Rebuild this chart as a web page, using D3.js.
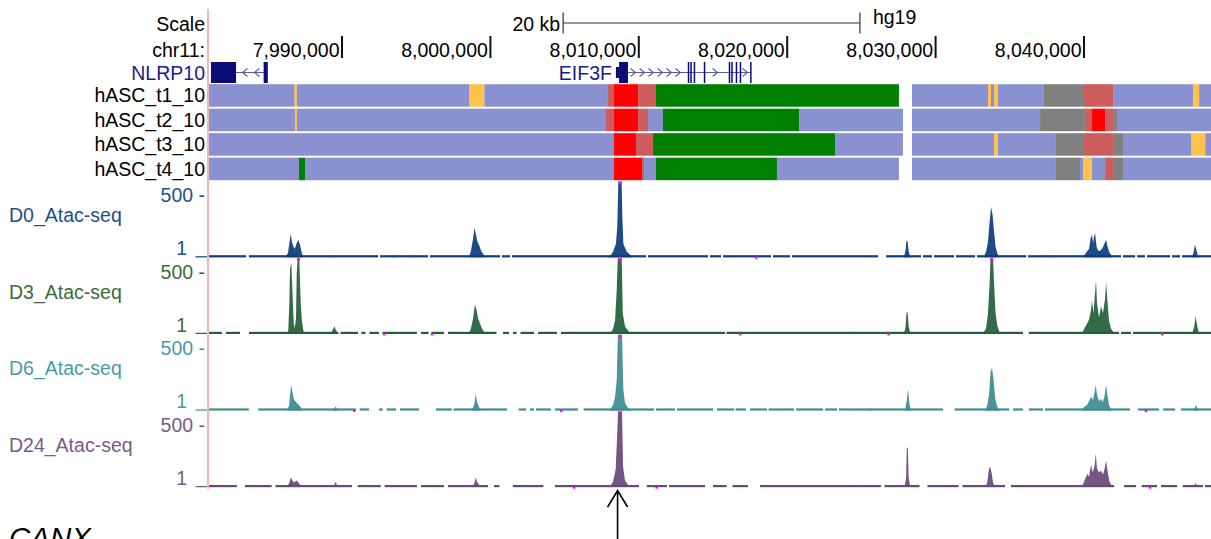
<!DOCTYPE html>
<html>
<head>
<meta charset="utf-8">
<script src="https://cdn.jsdelivr.net/npm/d3@7"></script>
<style>
  body { margin: 0; background: #fff; }
  svg { display: block; font-family: "Liberation Sans", Arial, sans-serif; }
</style>
</head>
<body>
<svg id="chart" width="1211" height="539"></svg>
<script>
// all positions are chr11 (hg19) coordinates in kb
const chrTicks = [7990, 8000, 8010, 8020, 8030, 8040];
const scaleBarKb = [8004.9, 8024.9];
const arrowKb = 8008.57;

// chromHMM states per row: [start, end, state]
const rowNames = ["hASC_t1_10", "hASC_t2_10", "hASC_t3_10", "hASC_t4_10"];
const t1Segments = [
  [7981.04, 7986.81, "Q"], [7986.81, 7986.97, "E"], [7986.97, 7998.60, "Q"], [7998.60, 7999.60, "E"],
  [7999.60, 8007.92, "Q"], [8007.92, 8008.33, "F"], [8008.33, 8009.95, "A"], [8009.95, 8011.16, "F"],
  [8011.16, 8027.53, "T"],
  [8028.41, 8033.53, "Q"], [8033.53, 8033.73, "E"], [8033.73, 8033.94, "Q"], [8033.94, 8034.20, "E"],
  [8034.20, 8037.30, "Q"], [8037.30, 8039.93, "R"], [8039.93, 8041.96, "F"], [8041.96, 8047.35, "Q"],
  [8047.35, 8047.76, "E"], [8047.76, 8048.60, "Q"]
];
const t2Segments = [
  [7981.04, 7986.83, "Q"], [7986.83, 7986.97, "E"], [7986.97, 8007.79, "Q"], [8007.79, 8008.33, "F"],
  [8008.33, 8009.95, "A"], [8009.95, 8010.62, "F"], [8010.62, 8011.63, "Q"], [8011.63, 8020.80, "T"],
  [8020.80, 8027.80, "Q"],
  [8028.41, 8037.04, "Q"], [8037.04, 8040.13, "R"], [8040.13, 8040.54, "F"], [8040.54, 8041.42, "A"],
  [8041.42, 8041.96, "F"], [8041.96, 8042.22, "R"], [8042.22, 8048.60, "Q"]
];
const t3Segments = [
  [7981.04, 8008.33, "Q"], [8008.33, 8009.81, "A"], [8009.81, 8010.96, "F"], [8010.96, 8023.22, "T"],
  [8023.22, 8027.80, "Q"],
  [8028.41, 8033.94, "Q"], [8033.94, 8034.20, "E"], [8034.20, 8038.11, "Q"], [8038.11, 8039.93, "R"],
  [8039.93, 8041.96, "F"], [8041.96, 8042.63, "R"], [8042.63, 8047.21, "Q"], [8047.21, 8048.17, "E"],
  [8048.17, 8048.60, "Q"]
];
const t4Segments = [
  [7981.04, 7987.10, "Q"], [7987.10, 7987.51, "T"], [7987.51, 8008.33, "Q"], [8008.33, 8010.22, "A"],
  [8010.22, 8010.35, "F"], [8010.35, 8011.16, "Q"], [8011.16, 8019.31, "T"], [8019.31, 8027.53, "Q"],
  [8028.41, 8038.11, "Q"], [8038.11, 8039.73, "R"], [8039.73, 8039.93, "Q"], [8039.93, 8040.54, "E"],
  [8040.54, 8041.42, "Q"], [8041.42, 8041.96, "F"], [8041.96, 8042.63, "R"], [8042.63, 8048.60, "Q"]
];

// genes
const nlrp10Exons = [[7981.17, 7982.86], [7984.72, 7985.00]];
const nlrp10Arrows = [7983.46, 7984.27];
const eif3fUtr = [[8008.46, 8008.67]];
const eif3fExons = [
  [8008.67, 8009.27], [8013.30, 8013.40], [8013.47, 8013.57], [8013.70, 8013.80], [8014.38, 8014.48],
  [8016.06, 8016.16], [8016.23, 8016.33], [8016.53, 8016.63], [8016.80, 8016.90], [8017.50, 8017.60]
];
const eif3fArrows = [8009.61, 8010.22, 8010.82, 8011.43, 8012.04, 8012.64, 8015.14, 8017.16];

// ATAC-seq signal: peaks as [kb, value], gaps in coverage, below-minimum marks
const signalNames = ["D0_Atac-seq", "D3_Atac-seq", "D6_Atac-seq", "D24_Atac-seq"];
const viewLimits = [1, 500];

const d0Peaks = [
  [[7986.23,1],[7986.36,28],[7986.46,94],[7986.54,153],[7986.63,100],[7986.73,67],[7986.83,54],[7986.93,87],[7987.06,114],[7987.17,81],[7987.27,34],[7987.37,1]],
  [[7989.33,1],[7989.39,14],[7989.46,1]],
  [[7993.43,1],[7993.50,11],[7993.57,1]],
  [[7994.58,1],[7994.65,11],[7994.72,1]],
  [[7998.56,1],[7998.69,41],[7998.83,120],[7998.93,193],[7999.03,147],[7999.13,100],[7999.23,81],[7999.37,41],[7999.50,21],[7999.64,1]],
  [[8007.93,1],[8008.13,14],[8008.26,34],[8008.46,87],[8008.55,200],[8008.62,520],[8008.84,520],[8008.89,266],[8008.96,87],[8009.19,34],[8009.41,14],[8009.54,1]],
  [[8027.87,1],[8027.97,41],[8028.04,107],[8028.11,107],[8028.18,41],[8028.28,1]],
  [[8033.26,1],[8033.40,34],[8033.53,100],[8033.64,233],[8033.74,332],[8033.84,279],[8033.94,167],[8034.04,67],[8034.17,21],[8034.28,1]],
  [[8037.51,1],[8037.58,14],[8037.65,1]],
  [[8039.94,1],[8040.14,28],[8040.34,54],[8040.44,120],[8040.54,147],[8040.61,94],[8040.68,134],[8040.74,160],[8040.85,67],[8040.95,41],[8041.08,41],[8041.22,54],[8041.35,81],[8041.49,114],[8041.59,67],[8041.69,34],[8041.89,1]],
  [[8047.28,1],[8047.38,28],[8047.48,81],[8047.59,41],[8047.69,1]]
];
const d3Peaks = [
  [[7986.29,1],[7986.38,21],[7986.45,200],[7986.50,432],[7986.58,472],[7986.68,233],[7986.75,67],[7986.81,34],[7986.90,100],[7986.95,399],[7987.01,520],[7987.12,520],[7987.22,200],[7987.30,81],[7987.39,21],[7987.47,1]],
  [[7989.26,1],[7989.39,28],[7989.49,47],[7989.60,21],[7989.73,1]],
  [[7994.60,1],[7994.68,14],[7994.75,1]],
  [[7998.56,1],[7998.69,34],[7998.83,100],[7998.96,193],[7999.06,160],[7999.17,100],[7999.30,67],[7999.43,34],[7999.64,1]],
  [[8008.06,1],[8008.26,28],[8008.40,87],[8008.51,286],[8008.58,520],[8008.85,520],[8008.92,134],[8009.07,47],[8009.27,21],[8009.48,1]],
  [[8024.24,1],[8024.30,14],[8024.37,1]],
  [[8024.50,1],[8024.57,14],[8024.64,1]],
  [[8025.31,1],[8025.38,14],[8025.45,1]],
  [[8027.87,1],[8027.97,41],[8028.04,134],[8028.11,147],[8028.18,54],[8028.28,1]],
  [[8031.98,1],[8032.05,14],[8032.12,1]],
  [[8033.20,1],[8033.40,34],[8033.53,134],[8033.64,332],[8033.70,520],[8033.87,520],[8033.94,332],[8034.04,134],[8034.17,47],[8034.34,1]],
  [[8037.58,1],[8037.65,14],[8037.72,1]],
  [[8039.87,1],[8040.00,28],[8040.21,67],[8040.34,94],[8040.48,160],[8040.54,220],[8040.64,134],[8040.74,266],[8040.81,352],[8040.88,200],[8041.01,107],[8041.15,180],[8041.28,134],[8041.42,233],[8041.49,339],[8041.59,200],[8041.69,81],[8041.82,34],[8042.03,1]],
  [[8045.53,1],[8045.60,14],[8045.67,1]],
  [[8047.28,1],[8047.42,41],[8047.52,114],[8047.62,54],[8047.75,1]]
];
const d6Peaks = [
  [[7986.29,1],[7986.43,28],[7986.50,100],[7986.58,167],[7986.66,120],[7986.77,67],[7986.90,54],[7987.03,41],[7987.17,28],[7987.30,1]],
  [[7989.40,1],[7989.57,24],[7989.73,1]],
  [[7998.76,1],[7998.90,34],[7999.01,107],[7999.10,54],[7999.23,21],[7999.37,1]],
  [[8008.06,1],[8008.26,34],[8008.40,87],[8008.51,200],[8008.59,520],[8008.87,520],[8008.96,134],[8009.07,47],[8009.27,14],[8009.48,1]],
  [[8024.57,1],[8024.64,11],[8024.71,1]],
  [[8025.58,1],[8025.65,11],[8025.72,1]],
  [[8027.94,1],[8028.04,54],[8028.14,140],[8028.21,67],[8028.31,1]],
  [[8033.33,1],[8033.47,28],[8033.60,100],[8033.70,253],[8033.80,279],[8033.91,200],[8034.01,81],[8034.14,28],[8034.28,1]],
  [[8039.87,1],[8040.00,21],[8040.21,34],[8040.37,67],[8040.48,87],[8040.61,67],[8040.71,120],[8040.79,167],[8040.88,100],[8041.01,61],[8041.15,74],[8041.28,54],[8041.39,100],[8041.49,167],[8041.59,94],[8041.69,34],[8041.82,1]],
  [[8047.42,1],[8047.55,34],[8047.69,1]]
];
const d24Peaks = [
  [[7986.29,1],[7986.43,21],[7986.56,61],[7986.66,41],[7986.77,28],[7986.93,41],[7987.07,28],[7987.24,1]],
  [[7989.43,1],[7989.57,34],[7989.70,1]],
  [[7993.43,1],[7993.50,11],[7993.57,1]],
  [[7998.83,1],[7998.93,28],[7999.01,61],[7999.10,34],[7999.23,14],[7999.37,1]],
  [[8008.06,1],[8008.26,34],[8008.44,114],[8008.53,312],[8008.60,520],[8008.87,520],[8008.94,134],[8009.07,41],[8009.27,14],[8009.48,1]],
  [[8024.10,1],[8024.17,11],[8024.30,11],[8024.40,1]],
  [[8025.50,1],[8025.60,11],[8025.70,1]],
  [[8026.19,1],[8026.26,11],[8026.33,1]],
  [[8027.91,1],[8028.01,54],[8028.06,259],[8028.13,259],[8028.18,67],[8028.28,1]],
  [[8033.40,1],[8033.50,41],[8033.60,120],[8033.67,134],[8033.77,94],[8033.87,28],[8033.97,1]],
  [[8039.87,1],[8040.00,34],[8040.14,67],[8040.24,87],[8040.34,67],[8040.48,147],[8040.58,94],[8040.71,134],[8040.79,220],[8040.88,120],[8041.01,94],[8041.15,107],[8041.28,81],[8041.39,120],[8041.49,173],[8041.59,100],[8041.72,34],[8041.89,1]],
  [[8047.38,1],[8047.52,24],[8047.65,1]]
];

const d0Gaps = [[7983.53,7983.73],[7992.43,7992.56],[7995.80,7995.93],[8000.65,8000.78],[8001.32,8001.46],[8010.49,8010.62],[8014.66,8014.80],[8015.54,8015.68],[8018.91,8019.05],[8020.19,8020.33],[8026.12,8026.66],[8029.02,8029.15],[8029.76,8029.90],[8031.24,8031.38],[8032.66,8032.79],[8036.10,8036.23],[8042.50,8042.63],[8043.44,8043.58],[8044.11,8044.25],[8045.80,8045.93],[8046.47,8046.61]];
const d3Gaps = [[7981.91,7982.18],[7983.13,7983.73],[7989.76,7989.90],[7991.08,7991.31],[7991.58,7991.85],[7992.49,7992.73],[7995.05,7995.32],[7995.83,7996.03],[7996.87,7997.14],[8000.41,8000.85],[8001.25,8001.52],[8001.76,8002.03],[8002.94,8003.21],[8004.49,8004.76],[8015.81,8015.91],[8035.88,8036.28],[8042.36,8042.50],[8043.17,8043.31]];
const d6Gaps = [[7983.72,7984.36],[7990.94,7991.19],[7991.82,7992.49],[7992.74,7993.00],[7993.64,7993.91],[7995.19,7996.33],[7997.39,7997.51],[8001.12,8001.90],[8002.40,8002.67],[8002.94,8003.07],[8004.08,8004.35],[8005.90,8006.28],[8011.03,8011.16],[8012.44,8012.58],[8015.00,8015.27],[8016.42,8016.52],[8017.23,8017.50],[8018.64,8018.74],[8020.46,8020.60],[8022.42,8022.55],[8023.36,8023.49],[8030.50,8031.28],[8034.95,8035.22],[8035.88,8036.28],[8037.24,8037.38],[8043.10,8043.63],[8045.06,8045.33],[8046.14,8046.52]];
const d24Gaps = [[7982.92,7983.46],[7985.26,7985.52],[7990.67,7991.06],[7992.61,7992.87],[7995.05,7995.32],[7996.87,7997.14],[7999.84,8000.24],[8000.61,8001.51],[8003.57,8004.35],[8010.01,8010.54],[8011.90,8012.04],[8014.46,8015.00],[8015.92,8016.32],[8017.36,8018.17],[8026.30,8026.56],[8028.92,8029.45],[8031.55,8031.81],[8034.68,8035.08],[8042.03,8042.70],[8043.51,8043.89],[8044.92,8045.19],[8046.27,8046.65],[8048.02,8048.16]];

const d0Below = [8017.90];
const d3Below = [7992.82, 7996.05, 8016.82, 8026.82, 8045.26];
const d6Below = [7990.81, 8004.76, 8044.16];
const d24Below = [8005.63, 8011.19, 8044.42];

const coverage = [7981.0, 8048.6];

// ---------------------------------------------------------------
const svg = d3.select("#chart");
svg.append("rect").attr("width", 1211).attr("height", 539).attr("fill", "#fff");

const x = d3.scaleLinear()
  .domain([chrTicks[0], chrTicks[chrTicks.length - 1]])
  .range([342, 1084]);

const fontSize = "19.5px";
const labelRight = 205;

const stateColor = {
  Q: "#8a91d0", E: "#ffc24b", T: "#008000", A: "#ff0000", F: "#cd5c5c", R: "#808080"
};

// + HEADER
svg.append("text").attr("x", labelRight).attr("y", 31)
  .attr("text-anchor", "end").style("font-size", fontSize).text("Scale");
svg.append("text").attr("x", labelRight).attr("y", 57)
  .attr("text-anchor", "end").style("font-size", fontSize).text("chr11:");

const bar = svg.append("g").attr("stroke", "#333").attr("stroke-width", 1.2);
bar.append("line").attr("x1", x(scaleBarKb[0])).attr("x2", x(scaleBarKb[1]))
  .attr("y1", 23).attr("y2", 23);
scaleBarKb.forEach(k => bar.append("line")
  .attr("x1", x(k)).attr("x2", x(k)).attr("y1", 12.5).attr("y2", 33.5));
svg.append("text").attr("x", x(scaleBarKb[0]) - 3).attr("y", 30.5)
  .attr("text-anchor", "end").style("font-size", fontSize)
  .text(d3.format(".0f")(scaleBarKb[1] - scaleBarKb[0]) + " kb");
svg.append("text").attr("x", x(scaleBarKb[1]) + 13).attr("y", 23.5)
  .style("font-size", fontSize).text("hg19");

const ticks = svg.append("g");
chrTicks.forEach(t => {
  ticks.append("line").attr("x1", x(t)).attr("x2", x(t)).attr("y1", 36).attr("y2", 58)
    .attr("stroke", "#111").attr("stroke-width", 2);
  ticks.append("text").attr("x", x(t) - 2.5).attr("y", 57)
    .attr("text-anchor", "end").style("font-size", fontSize)
    .text(d3.format(",")(t * 1000));
});

// + GENES
const geneColor = "#0c0c78";
const intronColor = "#5a5aa6";
const geneY = 72.5;
const genes = svg.append("g");

function drawGene(exons, utrs, arrows, dir, name, labelX) {
  const all = exons.concat(utrs);
  const lo = d3.min(all, d => d[0]), hi = d3.max(all, d => d[1]);
  genes.append("line").attr("x1", x(lo)).attr("x2", x(hi))
    .attr("y1", geneY).attr("y2", geneY).attr("stroke", intronColor).attr("stroke-width", 1.2);
  arrows.forEach(a => {
    const ax = x(a);
    genes.append("path")
      .attr("d", `M${ax - 2.5 * dir},${geneY - 4}L${ax + 2.5 * dir},${geneY}L${ax - 2.5 * dir},${geneY + 4}`)
      .attr("fill", "none").attr("stroke", intronColor).attr("stroke-width", 1.1);
  });
  genes.selectAll(null).data(exons).join("rect")
    .attr("x", d => x(d[0])).attr("width", d => Math.max(1.5, x(d[1]) - x(d[0])))
    .attr("y", geneY - 10.5).attr("height", 21).attr("fill", geneColor);
  genes.selectAll(null).data(utrs).join("rect")
    .attr("x", d => x(d[0])).attr("width", d => x(d[1]) - x(d[0]))
    .attr("y", geneY - 5.5).attr("height", 11).attr("fill", geneColor);
  genes.append("text").attr("x", labelX).attr("y", geneY + 7.5)
    .attr("text-anchor", "end").attr("fill", "#1c1c88").style("font-size", fontSize).text(name);
}
drawGene(nlrp10Exons, [], nlrp10Arrows, -1, "NLRP10", labelRight);
drawGene(eif3fExons, eif3fUtr, eif3fArrows, 1, "EIF3F", x(eif3fUtr[0][0]) - 4);

// + CHROMHMM ROWS
const rowY = d3.scaleBand().domain(rowNames).range([84.2, 180.2]).paddingInner(0.08);
const rowData = [t1Segments, t2Segments, t3Segments, t4Segments];
rowNames.forEach((name, i) => {
  const g = svg.append("g");
  g.selectAll("rect").data(rowData[i]).join("rect")
    .attr("x", d => x(d[0]))
    .attr("width", d => x(d[1]) - x(d[0]))
    .attr("y", rowY(name))
    .attr("height", rowY.bandwidth())
    .attr("fill", d => stateColor[d[2]]);
  svg.append("text").attr("x", labelRight).attr("y", rowY(name) + rowY.bandwidth() / 2 + 7)
    .attr("text-anchor", "end").style("font-size", fontSize).text(name);
});

// + SIGNAL TRACKS
const trackColors = ["#0d3d7c", "#235f39", "#3f8c92", "#6a4878"];
const labelColors = ["#1f4f8c", "#3d6b3c", "#4c9aa2", "#7a5a88"];
const peaksAll = [d0Peaks, d3Peaks, d6Peaks, d24Peaks];
const gapsAll = [d0Gaps, d3Gaps, d6Gaps, d24Gaps];
const belowAll = [d0Below, d3Below, d6Below, d24Below];

const trackY = d3.scaleBand().domain(signalNames).range([181.6, 486.6]).paddingInner(0.0183);

signalNames.forEach((name, i) => {
  const top = trackY(name), base = top + trackY.bandwidth();
  const y = d3.scaleLinear().domain(viewLimits).range([base, top]).clamp(true);
  const g = svg.append("g");
  const col = trackColors[i];

  // baseline coverage pieces between gaps
  const gaps = gapsAll[i].slice().sort((a, b) => a[0] - b[0]);
  const pieces = [];
  let start = coverage[0];
  gaps.forEach(gp => { pieces.push([start, gp[0]]); start = gp[1]; });
  pieces.push([start, coverage[1]]);
  g.selectAll("rect.base").data(pieces).join("rect").attr("class", "base")
    .attr("x", d => x(d[0])).attr("width", d => Math.max(0, x(d[1]) - x(d[0])))
    .attr("y", base - 1.6).attr("height", 2.2).attr("fill", col);

  const area = d3.area()
    .x(d => x(d[0]))
    .y0(base + 0.5)
    .y1(d => y(d[1]));
  g.selectAll("path.peak").data(peaksAll[i]).join("path").attr("class", "peak")
    .attr("d", area).attr("fill", col).attr("fill-opacity", 0.93);

  // clipped-above markers
  peaksAll[i].forEach(p => {
    const over = p.filter(d => d[1] > viewLimits[1]);
    if (over.length) {
      const mid = (over[0][0] + over[over.length - 1][0]) / 2;
      g.append("rect").attr("x", x(mid) - 1.5).attr("width", 3)
        .attr("y", top).attr("height", 2.5).attr("fill", "#ff00ff");
    }
  });
  // below-minimum markers
  g.selectAll("rect.below").data(belowAll[i]).join("rect").attr("class", "below")
    .attr("x", d => x(d) - 1).attr("width", 2.5)
    .attr("y", base - 0.5).attr("height", 2.5).attr("fill", "#ff00ff");

  // labels
  const lc = labelColors[i];
  svg.append("text").attr("x", 9).attr("y", top + 40.5)
    .attr("fill", lc).style("font-size", fontSize).text(name);
  svg.append("text").attr("x", labelRight).attr("y", top + 20.5)
    .attr("text-anchor", "end").attr("fill", lc).style("font-size", fontSize)
    .text(viewLimits[1] + " -");
  svg.append("text").attr("x", 187).attr("y", base - 1.5)
    .attr("text-anchor", "end").attr("fill", lc).style("font-size", fontSize)
    .text(viewLimits[0]);
  svg.append("line").attr("x1", 195.5).attr("x2", 207).attr("y1", base).attr("y2", base)
    .attr("stroke", lc).attr("stroke-width", 1.3);
});

// + GUIDE LINE (left edge)
svg.append("line").attr("x1", 208).attr("x2", 208).attr("y1", 9).attr("y2", 489)
  .attr("stroke", "#f6b4b4").attr("stroke-width", 2);

// + ARROW
const ax = x(arrowKb);
svg.append("path")
  .attr("d", `M${ax},539L${ax},490.5M${ax - 10},507L${ax},490.5L${ax + 10},507`)
  .attr("fill", "none").attr("stroke", "#000").attr("stroke-width", 1.6);

// + CANX label (cut at bottom)
svg.append("text").attr("x", 9).attr("y", 548)
  .style("font-size", "29.5px").style("font-style", "italic").text("CANX");
</script>
</body>
</html>
